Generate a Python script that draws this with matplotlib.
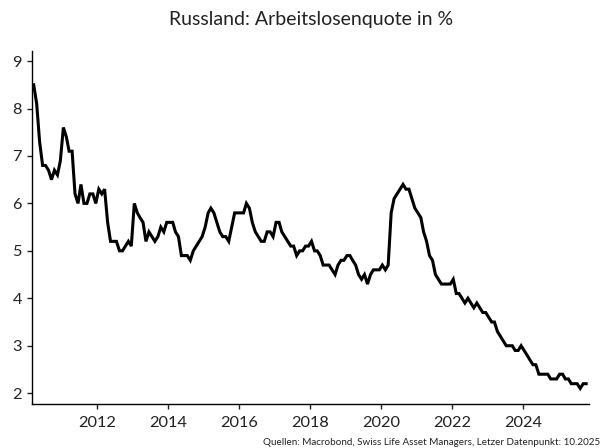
import numpy as np
import pandas as pd
import matplotlib
matplotlib.use("Agg")
import matplotlib.pyplot as plt
import matplotlib.dates as mdates

plt.rcParams['font.family'] = ['Lato', 'DejaVu Sans']

# Arbeitslosenquote Russland, monatlich, 03.2010 - 10.2025 (in %)
q_2010 = [8.5, 8.1, 7.3, 6.8, 6.8, 6.7, 6.5, 6.7, 6.6, 6.9]
q_2011 = [7.6, 7.4, 7.1, 7.1, 6.2, 6.0, 6.4, 6.0, 6.0, 6.2, 6.2, 6.0]
q_2012 = [6.3, 6.2, 6.3, 5.6, 5.2, 5.2, 5.2, 5.0, 5.0, 5.1, 5.2, 5.1]
q_2013 = [6.0, 5.8, 5.7, 5.6, 5.2, 5.4, 5.3, 5.2, 5.3, 5.5, 5.4, 5.6]
q_2014 = [5.6, 5.6, 5.4, 5.3, 4.9, 4.9, 4.9, 4.8, 5.0, 5.1, 5.2, 5.3]
q_2015 = [5.5, 5.8, 5.9, 5.8, 5.6, 5.4, 5.3, 5.3, 5.2, 5.5, 5.8, 5.8]
q_2016 = [5.8, 5.8, 6.0, 5.9, 5.6, 5.4, 5.3, 5.2, 5.2, 5.4, 5.4, 5.3]
q_2017 = [5.6, 5.6, 5.4, 5.3, 5.2, 5.1, 5.1, 4.9, 5.0, 5.0, 5.1, 5.1]
q_2018 = [5.2, 5.0, 5.0, 4.9, 4.7, 4.7, 4.7, 4.6, 4.5, 4.7, 4.8, 4.8]
q_2019 = [4.9, 4.9, 4.8, 4.7, 4.5, 4.4, 4.5, 4.3, 4.5, 4.6, 4.6, 4.6]
q_2020 = [4.7, 4.6, 4.7, 5.8, 6.1, 6.2, 6.3, 6.4, 6.3, 6.3, 6.1, 5.9]
q_2021 = [5.8, 5.7, 5.4, 5.2, 4.9, 4.8, 4.5, 4.4, 4.3, 4.3, 4.3, 4.3]
q_2022 = [4.4, 4.1, 4.1, 4.0, 3.9, 4.0, 3.9, 3.8, 3.9, 3.8, 3.7, 3.7]
q_2023 = [3.6, 3.5, 3.5, 3.3, 3.2, 3.1, 3.0, 3.0, 3.0, 2.9, 2.9, 3.0]
q_2024 = [2.9, 2.8, 2.7, 2.6, 2.6, 2.4, 2.4, 2.4, 2.4, 2.3, 2.3, 2.3]
q_2025 = [2.4, 2.4, 2.3, 2.3, 2.2, 2.2, 2.2, 2.1, 2.2, 2.2]

werte = (q_2010 + q_2011 + q_2012 + q_2013 + q_2014 + q_2015 + q_2016 + q_2017
         + q_2018 + q_2019 + q_2020 + q_2021 + q_2022 + q_2023 + q_2024 + q_2025)
datum = pd.date_range('2010-03-01', periods=len(werte), freq='MS') + pd.Timedelta(days=14)

y_ticks = [2, 3, 4, 5, 6, 7, 8, 9]
titel = 'Russland: Arbeitslosenquote in %'
quelle = 'Quellen: Macrobond, Swiss Life Asset Managers, Letzer Datenpunkt: 10.2025'

fig = plt.figure(figsize=(6.03, 4.48), dpi=100)
ax = fig.add_axes([0.0536, 0.098, 0.9234, 0.789])

ax.plot(datum, werte, color='black', lw=2.2, solid_joinstyle='miter')

ax.set_xlim(pd.Timestamp('2010-03-01'), pd.Timestamp('2025-11-15'))
ax.set_ylim(1.77, 9.22)
ax.set_yticks(y_ticks)
ax.xaxis.set_major_locator(mdates.YearLocator(2))
ax.xaxis.set_major_formatter(mdates.DateFormatter('%Y'))

for s in ['top', 'right']:
    ax.spines[s].set_visible(False)
for s in ['left', 'bottom']:
    ax.spines[s].set_linewidth(1.0)
ax.tick_params(axis='both', direction='out', length=3.5, width=1.0,
               labelsize=11.8, colors='#222222')
ax.tick_params(axis='x', pad=5)
ax.tick_params(axis='y', pad=4)

fig.text(0.5153, 1 - 20 / 448, titel, ha='center', va='center',
         fontsize=14, color='#222222')
fig.text(0.995, 0.002, quelle, ha='right', va='bottom', fontsize=7.1, color='#222222')

fig.savefig('out.png', dpi=100)
